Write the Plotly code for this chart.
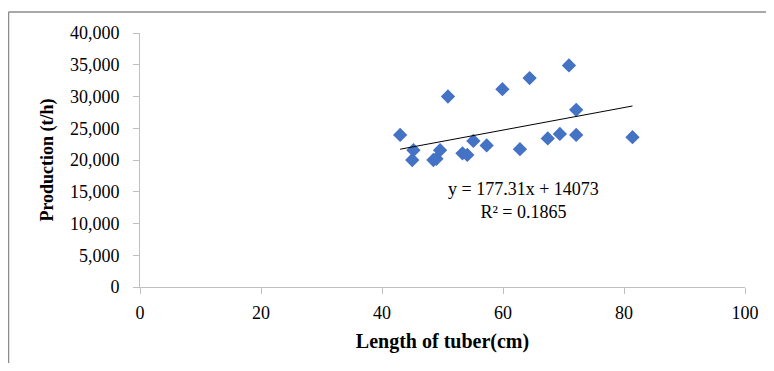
import plotly.graph_objects as go
import numpy as np

# Data
length_cm = [43.0, 45.2, 45.0, 50.9, 48.5, 49.0, 49.6, 53.3, 54.1, 55.1,
             57.3, 59.9, 62.8, 64.4, 67.4, 69.4, 70.9, 72.1, 72.1, 81.4]
production = [23950, 21550, 20000, 30000, 20000, 20200, 21550, 21050, 20800, 23000,
              22300, 31150, 21700, 32900, 23400, 24100, 34900, 27900, 23950, 23600]

# Trendline coefficients (as printed on the chart)
slope = 177.31
intercept = 14073
r_squared = 0.1865

x_ticks = [0, 20, 40, 60, 80, 100]
y_ticks = [0, 5000, 10000, 15000, 20000, 25000, 30000, 35000, 40000]

FONT = "Liberation Serif"

xs = np.array([min(length_cm), max(length_cm)])
ys = slope * xs + intercept

fig = go.Figure()
fig.add_trace(go.Scatter(
    x=length_cm, y=production, mode="markers",
    marker=dict(symbol="diamond", size=11, color="#4472C4", line=dict(width=0)),
    showlegend=False, hoverinfo="x+y"))
fig.add_trace(go.Scatter(
    x=xs, y=ys, mode="lines", line=dict(color="black", width=1),
    showlegend=False, hoverinfo="skip"))

# page body has an 8px margin on every side; keep the figure inside the window
W, H = 758, 355
L, R, T, B = 132, 21, 25, 76
pw, ph = W - L - R, H - T - B

def px(xp):
    return (xp - L) / pw

def py(yp):
    return (H - B - yp) / ph

fig.add_annotation(
    x=px(515), y=py(193), xref="paper", yref="paper",
    text=f"y = {slope}x + {intercept}<br>R² = {r_squared}",
    showarrow=False, align="center",
    font=dict(family=FONT, size=18, color="black"))

# outer frame (top and left borders)
fig.add_shape(type="line", xref="paper", yref="paper",
              x0=px(0.5), x1=px(W), y0=py(4), y1=py(4),
              line=dict(color="#8c8c8c", width=1.5))
fig.add_shape(type="line", xref="paper", yref="paper",
              x0=px(0.5), x1=px(0.5), y0=py(4), y1=py(H),
              line=dict(color="#8c8c8c", width=1.5))

fig.update_layout(
    width=W, height=H,
    margin=dict(l=L, r=R, t=T, b=B),
    paper_bgcolor="white", plot_bgcolor="white",
    font=dict(family=FONT, size=18, color="black"),
    xaxis=dict(range=[0, 100], tickvals=x_ticks, showgrid=False, zeroline=False,
               showline=True, linecolor="#bfbfbf", linewidth=1,
               ticks="outside", ticklen=6, tickcolor="#bfbfbf",
               ticklabelstandoff=3, automargin=False,
               tickfont=dict(family=FONT, size=18),
               title=dict(text="<b>Length of tuber(cm)</b>", standoff=12,
                          font=dict(family=FONT, size=20))),
    yaxis=dict(range=[0, 40000], tickvals=y_ticks, tickformat=",", showgrid=False,
               zeroline=False, showline=True, linecolor="#bfbfbf", linewidth=1,
               ticks="outside", ticklen=6, tickcolor="#bfbfbf",
               ticklabelstandoff=10, automargin=False,
               tickfont=dict(family=FONT, size=18),
               title=dict(text="<b>Production (t/h)</b>", standoff=11,
                          font=dict(family=FONT, size=18))),
)

fig.write_html("out.html")
